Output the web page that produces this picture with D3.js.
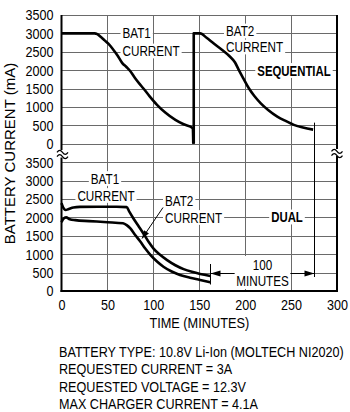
<!DOCTYPE html>
<html>
<head>
<meta charset="utf-8">
<script src="https://cdn.jsdelivr.net/npm/d3@7"></script>
<style>
  html, body { margin: 0; padding: 0; background: #fff; }
  svg { display: block; font-family: "Liberation Sans", Arial, sans-serif; }
</style>
</head>
<body>
<svg id="chart" width="350" height="412"></svg>
<script>
// Axis ticks
const minuteTicks = [0, 50, 100, 150, 200, 250, 300];
const currentTicks = [0, 500, 1000, 1500, 2000, 2500, 3000, 3500];

// Sequential charging: [minutes, mA]
const seqBat1 = [[0,3000],[36,3000],[39,2980],[43,2900],[47,2810],[51,2720],[56,2570],[61,2400],[66,2200],
  [71,2080],[75,1970],[80,1790],[85,1630],[89,1510],[96,1290],[104,1060],[113,850],[124,650],[133,530],
  [143,425],[143.5,0]];
const seqBat2 = [[144,0],[144,3000],[151,3000],[158,2880],[165.5,2730],[175,2550],[183,2380],[189,2210],
  [193,2010],[198,1780],[204,1510],[210,1300],[217,1100],[225,920],[235,740],[245,610],[253,515],
  [263,440],[274,385]];

// Dual charging: [minutes, mA]
const dualBat1 = [[0,2390],[1,2320],[2.5,2240],[4.5,2200],[8,2230],[13,2270],[20,2285],[40,2290],[60,2290],
  [71,2280],[74,2150],[78,1985],[84,1760],[89,1570],[95,1330],[100,1160],[107,990],[115,840],[124,700],
  [133,595],[142,520],[151,462],[162,410]];
const dualBat2 = [[0,1870],[2,1960],[5,2000],[9,1950],[15,1925],[30,1900],[50,1870],[67,1840],[71,1790],
  [75,1700],[80,1530],[86,1340],[91,1160],[97,975],[104,800],[111,660],[120,530],[129,435],[140,360],
  [151,300],[162,235]];

// Span shown by the dimension arrow (minutes)
const spanStart = 162;
const spanEnd = 274.5;

const notes = [
  "BATTERY TYPE: 10.8V Li-Ion (MOLTECH NI2020)",
  "REQUESTED CURRENT = 3A",
  "REQUESTED VOLTAGE = 12.3V",
  "MAX CHARGER CURRENT = 4.1A"
];

// Narrow lettering: squeeze regular glyphs horizontally around the text's anchor point
function condense(node, k) {
  const tx = +node.getAttribute("x") || 0;
  const ty = +node.getAttribute("y") || 0;
  const prev = node.getAttribute("transform") || "";
  node.setAttribute("x", 0);
  node.setAttribute("y", 0);
  node.setAttribute("transform", `${prev} translate(${tx},${ty}) scale(${k},1)`.trim());
}

const svg = d3.select("#chart");
const x = d3.scaleLinear().domain([0, 300]).range([61.5, 337]);
const yTop = d3.scaleLinear().domain([0, 3500]).range([143.8, 15]);
const yBot = d3.scaleLinear().domain([0, 3500]).range([291, 162.2]);

const gridG = svg.append("g").attr("stroke", "#6a6a6a").attr("stroke-width", 1).attr("shape-rendering", "crispEdges");
const bgG = svg.append("g").attr("fill", "#fff");
const markG = svg.append("g");
const textG = svg.append("g").attr("fill", "#000");

// horizontal grid, both panels
[yTop, yBot].forEach(y => {
  gridG.selectAll(null).data(currentTicks).enter().append("line")
    .attr("x1", x(0)).attr("x2", x(300))
    .attr("y1", d => Math.round(y(d)) + 0.5).attr("y2", d => Math.round(y(d)) + 0.5);
});
// vertical grid
gridG.selectAll(null).data(minuteTicks.slice(1, -1)).enter().append("line")
  .attr("x1", d => Math.round(x(d)) + 0.5).attr("x2", d => Math.round(x(d)) + 0.5)
  .attr("y1", yTop(3500)).attr("y2", yBot(0));

// Tick labels
const leftTop = textG.append("g").attr("transform", `translate(${x(0)},0)`)
  .call(d3.axisLeft(yTop).tickValues(currentTicks).tickSize(0).tickPadding(8).tickFormat(d3.format("d")));
const leftBot = textG.append("g").attr("transform", `translate(${x(0)},0)`)
  .call(d3.axisLeft(yBot).tickValues(currentTicks).tickSize(0).tickPadding(8).tickFormat(d3.format("d")));
const bottom = textG.append("g").attr("transform", `translate(0,${yBot(0)})`)
  .call(d3.axisBottom(x).tickValues(minuteTicks).tickSize(0).tickPadding(8).tickFormat(d3.format("d")));
[leftTop, leftBot, bottom].forEach(g => {
  g.attr("font-family", null).attr("font-size", null);
  g.select(".domain").remove();
  g.selectAll("text").attr("font-size", 15).attr("fill", "#000").each(function () { condense(this, 0.84); });
});

// Frame: left axis, right border, bottom axis, with break gaps
const frame = markG.append("g").attr("stroke", "#000").attr("stroke-width", 2).attr("fill", "none");
frame.append("line").attr("x1", x(0)).attr("x2", x(0)).attr("y1", yTop(3500)).attr("y2", 150);
frame.append("line").attr("x1", x(0)).attr("x2", x(0)).attr("y1", 157.5).attr("y2", yBot(0) + 1);
frame.append("line").attr("x1", x(300)).attr("x2", x(300)).attr("y1", yTop(3500)).attr("y2", 149);
frame.append("line").attr("x1", x(300)).attr("x2", x(300)).attr("y1", 156).attr("y2", yBot(0) + 1);
frame.append("line").attr("x1", x(0) - 1).attr("x2", x(300) + 1).attr("y1", yBot(0)).attr("y2", yBot(0));

// Axis break marks
function breakMark(cx, cy) {
  const g = markG.append("g").attr("transform", `translate(${cx},${cy})`)
    .attr("fill", "none").attr("stroke", "#000").attr("stroke-width", 1.2);
  [-2.2, 2.2].forEach(dy => {
    g.append("path").attr("d", `M-5.5,${dy + 1} q2.75,-4 5.5,0 t5.5,0`);
  });
}
breakMark(x(0) + 1, 153.5);
breakMark(x(300), 152.5);

// Curves: smooth runs, straight joins where the time value repeats
function curvePath(data, y) {
  const gen = d3.line().x(d => x(d[0])).y(d => y(d[1])).curve(d3.curveMonotoneX);
  const runs = [];
  let run = [data[0]];
  for (let i = 1; i < data.length; i++) {
    if (data[i][0] > data[i - 1][0]) run.push(data[i]);
    else { runs.push(run); run = [data[i]]; }
  }
  runs.push(run);
  return runs.map((r, i) => {
    const p = r.length > 1 ? gen(r) : `M${x(r[0][0])},${y(r[0][1])}`;
    return i === 0 ? p : "L" + p.slice(1);
  }).join("");
}
const curves = markG.append("g").attr("fill", "none").attr("stroke", "#000")
  .attr("stroke-width", 2.6).attr("stroke-linejoin", "round");
curves.append("path").attr("d", curvePath(seqBat1, yTop));
curves.append("path").attr("d", curvePath(seqBat2, yTop));
curves.append("path").attr("d", curvePath(dualBat1, yBot));
curves.append("path").attr("d", curvePath(dualBat2, yBot));

// Labels with knock-out backgrounds
function label(txt, px, py, opts = {}) {
  const t = textG.append("text").text(txt)
    .attr("x", px).attr("y", py)
    .attr("font-size", opts.size || 15)
    .attr("font-weight", opts.bold ? "bold" : "normal")
    .attr("text-anchor", opts.anchor || "start")
    .attr("dominant-baseline", "central");
  condense(t.node(), opts.k || 0.78);
  const r = t.node().getBoundingClientRect();
  const pad = opts.pad == null ? 2 : opts.pad;
  if (!opts.noBg) {
    bgG.append("rect")
      .attr("x", r.left - pad).attr("y", r.top + 1)
      .attr("width", r.width + pad * 2).attr("height", r.height - 2);
  }
  return t;
}

label("BAT1", 122.5, 32.5);
label("CURRENT", 122.5, 51);
label("BAT2", 226, 31);
label("CURRENT", 226, 47);
label("SEQUENTIAL", 294, 70.5, {bold: true, anchor: "middle", k: 0.76});

label("BAT1", 105, 178.5, {anchor: "middle"});
label("CURRENT", 106, 195.5, {anchor: "middle"});
label("BAT2", 165, 201);
label("CURRENT", 165, 217.5);
label("DUAL", 287, 217, {bold: true, anchor: "middle", k: 0.76});

// Pointer from the dual BAT2 label
const ax0 = 163, ay0 = 207.5, ax1 = 142, ay1 = 238.5;
markG.append("line").attr("x1", ax0).attr("y1", ay0).attr("x2", ax1).attr("y2", ay1)
  .attr("stroke", "#000").attr("stroke-width", 1);
{
  const ang = Math.atan2(ay1 - ay0, ax1 - ax0);
  const L = 8, W = 3;
  const bx = ax1 - L * Math.cos(ang), by = ay1 - L * Math.sin(ang);
  const nx = -Math.sin(ang) * W, ny = Math.cos(ang) * W;
  markG.append("path").attr("d", `M${ax1},${ay1}L${bx + nx},${by + ny}L${bx - nx},${by - ny}Z`).attr("fill", "#000");
}

// Dimension: span between end of dual charge and end of sequential charge
const dim = markG.append("g").attr("stroke", "#000").attr("stroke-width", 1).attr("fill", "none");
const dimY = Math.round(yBot(500)) + 0.5;
const xa = Math.round(x(spanStart)) + 0.5, xb = Math.round(x(spanEnd)) + 0.5;
const midX = (xa + xb) / 2;
const gapHalf = 28;
dim.append("line").attr("x1", xa).attr("x2", xa).attr("y1", 264).attr("y2", 284.5);
dim.append("line").attr("x1", xb).attr("x2", xb).attr("y1", yTop(385) - 7).attr("y2", 277);
dim.append("line").attr("x1", xa).attr("x2", midX - gapHalf).attr("y1", dimY).attr("y2", dimY);
dim.append("line").attr("x1", midX + gapHalf).attr("x2", xb).attr("y1", dimY).attr("y2", dimY);
[[xa, 1], [xb, -1]].forEach(([px, dir]) => {
  markG.append("path")
    .attr("d", `M${px},${dimY}L${px + dir * 10},${dimY - 3}L${px + dir * 10},${dimY + 3}Z`)
    .attr("fill", "#000");
});
bgG.append("rect").attr("x", midX - gapHalf).attr("y", 256).attr("width", gapHalf * 2).attr("height", 33);
label("100", midX, 265, {anchor: "middle", noBg: true});
label("MINUTES", midX, 280.5, {anchor: "middle", noBg: true});

// Axis titles
const xTitle = textG.append("text").text("TIME (MINUTES)")
  .attr("x", x(150)).attr("y", 323).attr("text-anchor", "middle").attr("dominant-baseline", "central")
  .attr("font-size", 15);
condense(xTitle.node(), 0.85);
textG.append("text").text("BATTERY CURRENT (mA)")
  .attr("transform", "translate(9,153.5) rotate(-90)")
  .attr("text-anchor", "middle").attr("dominant-baseline", "central")
  .attr("font-size", 15);

// Conditions
textG.append("g").selectAll("text").data(notes).enter().append("text")
  .text(d => d)
  .attr("x", 59).attr("y", (d, i) => 352 + i * 17.5)
  .attr("dominant-baseline", "central")
  .attr("font-size", 14.5)
  .each(function () { condense(this, 0.87); });
</script>
</body>
</html>
